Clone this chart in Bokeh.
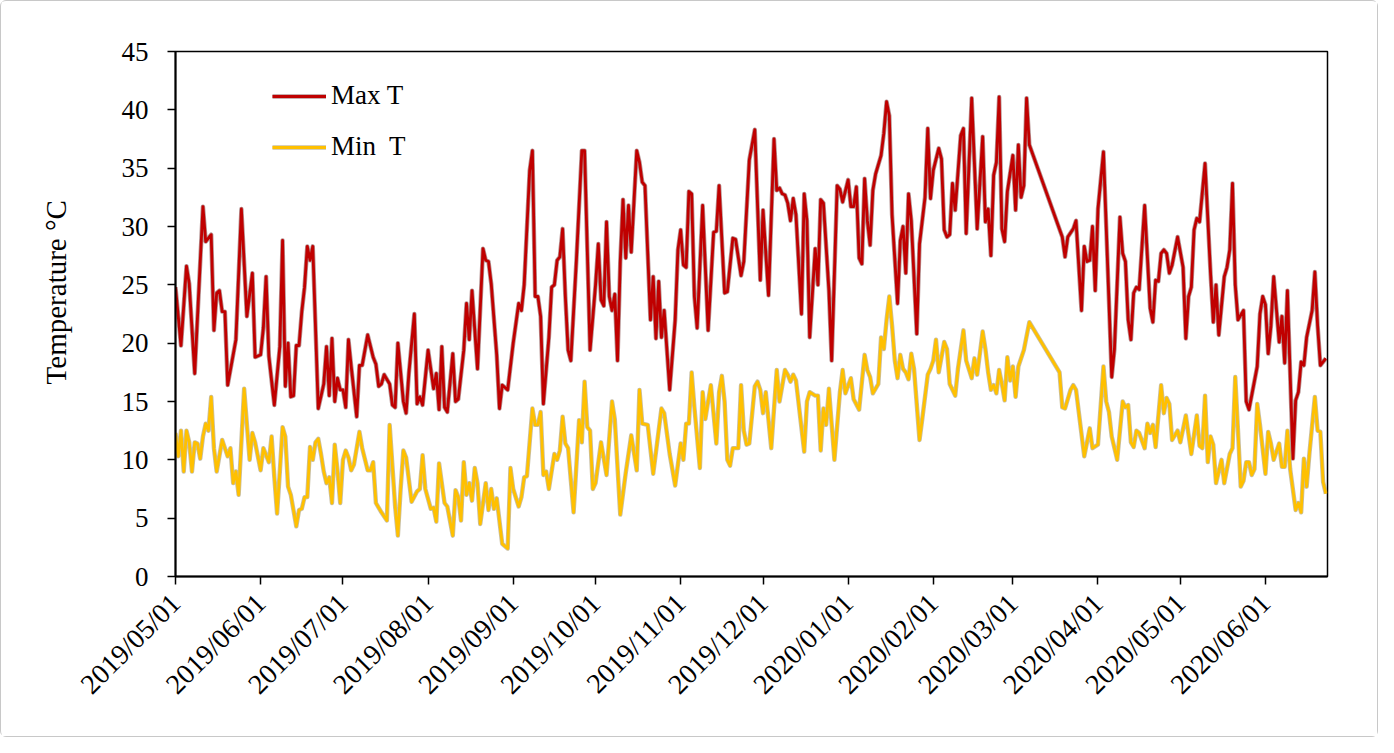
import math
import pandas as pd
from bokeh.plotting import figure
from bokeh.models import (FixedTicker, DatetimeTickFormatter,
                          Range1d, Legend, LegendItem, ColumnDataSource)
from bokeh.embed import file_html
from bokeh.resources import INLINE

# ---------------- data (days since 2019/05/01, daily temperature in °C) ----------------
START = "2019-05-01"

max_days = [0, 2, 4, 5, 7, 10, 11, 13, 14, 15, 16, 17, 18, 19, 22, 24, 26, 28, 29, 31, 32, 33, 34, 36, 38,
            39, 40, 41, 42, 43, 44, 45, 46, 47, 48, 49, 50, 52, 54, 55, 56, 57, 58, 59, 60, 61, 62, 63, 64,
            66, 67, 68, 70, 72, 73, 74, 75, 76, 78, 79, 80, 81, 83, 84, 85, 87, 88, 89, 90, 92, 94, 95, 96,
            97, 98, 99, 101, 102, 103, 105, 106, 107, 108, 110, 112, 113, 114, 115, 117, 118, 119, 120, 121,
            123, 125, 126, 127, 129, 130, 131, 132, 133, 134, 136, 137, 138, 139, 140, 141, 142, 143, 144,
            146, 148, 149, 151, 153, 154, 155, 156, 157, 158, 159, 160, 161, 162, 163, 164, 165, 166, 168,
            169, 170, 171, 173, 174, 175, 176, 177, 178, 180, 182, 183, 184, 185, 186, 187, 188, 189, 190,
            192, 194, 196, 197, 198, 200, 201, 203, 204, 206, 207, 209, 211, 213, 214, 216, 218, 219, 220,
            221, 222, 223, 224, 225, 226, 228, 229, 230, 231, 233, 234, 235, 236, 238, 239, 241, 242, 243,
            245, 246, 247, 248, 249, 250, 251, 252, 253, 254, 255, 257, 258, 259, 260, 261, 263, 264, 265,
            266, 267, 268, 270, 271, 273, 274, 275, 276, 278, 279, 280, 281, 282, 283, 284, 286, 287, 288,
            290, 292, 294, 295, 296, 297, 298, 299, 300, 301, 302, 303, 305, 306, 307, 308, 309, 310, 311,
            323, 324, 325, 327, 328, 330, 331, 332, 333, 334, 335, 336, 338, 339, 341, 342, 344, 345, 346,
            347, 348, 349, 350, 351, 353, 355, 356, 357, 358, 359, 360, 361, 362, 363, 365, 367, 368, 369,
            370, 371, 372, 373, 375, 377, 378, 379, 380, 382, 383, 384, 385, 386, 387, 389, 390, 391, 394,
            395, 396, 397, 398, 399, 400, 402, 403, 404, 405, 407, 408, 409, 410, 411, 412, 414, 415, 416,
            417, 419]
max_temp = [24.8, 19.8, 26.6, 25.1, 17.4, 31.7, 28.7, 29.3, 21.1, 24.3, 24.5, 22.7, 22.7, 16.4, 20.3, 31.5,
            22.3, 26.0, 18.8, 19.0, 21.3, 25.7, 18.9, 14.7, 19.7, 28.8, 16.3, 20.0, 15.4, 15.5, 19.8, 19.8,
            22.7, 24.8, 28.3, 27.1, 28.3, 14.4, 16.5, 19.7, 15.5, 20.4, 15.0, 17.0, 16.0, 16.0, 14.5, 20.3,
            18.0, 13.7, 18.1, 18.1, 20.7, 18.8, 18.2, 16.3, 16.5, 17.3, 16.5, 14.7, 14.5, 20.0, 15.0, 14.0,
            17.4, 22.5, 14.8, 15.4, 14.7, 19.4, 16.1, 17.4, 14.3, 19.7, 14.5, 14.1, 19.1, 15.0, 15.2, 19.4,
            23.4, 20.3, 24.5, 17.8, 28.1, 27.1, 27.0, 25.1, 19.0, 14.4, 16.4, 16.2, 16.0, 20.0, 23.4, 22.8,
            25.0, 34.8, 36.5, 24.0, 24.0, 22.3, 14.8, 20.5, 24.8, 25.0, 27.1, 27.4, 29.8, 24.0, 19.4, 18.5,
            27.0, 36.5, 36.5, 19.4, 25.0, 28.5, 23.7, 23.2, 30.4, 24.0, 22.8, 24.2, 18.5, 27.0, 32.3, 27.3,
            31.8, 27.8, 36.5, 35.5, 33.8, 33.5, 22.0, 25.7, 20.4, 25.3, 20.5, 22.8, 16.0, 22.0, 28.0, 29.7,
            26.7, 26.5, 33.0, 32.8, 24.0, 21.3, 31.8, 21.1, 29.5, 29.6, 33.5, 24.3, 24.4, 29.0, 28.9, 25.8,
            27.0, 35.7, 38.3, 25.4, 31.4, 24.1, 37.5, 33.1, 33.3, 32.8, 32.7, 32.0, 30.5, 32.4, 31.0, 22.5,
            32.8, 30.5, 20.5, 28.1, 25.0, 32.3, 32.0, 24.5, 18.5, 33.5, 33.2, 32.1, 34.0, 31.7, 31.7, 33.4,
            27.3, 26.8, 34.1, 30.5, 28.4, 33.1, 34.5, 36.1, 38.0, 40.7, 39.5, 31.0, 23.4, 28.8, 30.0, 26.0,
            32.8, 30.5, 20.8, 28.5, 32.5, 38.4, 32.4, 34.8, 36.7, 35.8, 29.7, 29.1, 29.3, 33.7, 31.4, 37.8,
            38.4, 29.4, 41.0, 29.8, 37.7, 30.4, 31.5, 27.5, 34.4, 35.5, 41.1, 29.8, 28.7, 33.0, 36.1, 31.4,
            37.0, 32.5, 33.5, 41.0, 37.0, 29.1, 27.4, 29.1, 29.8, 30.5, 22.8, 28.3, 27.0, 27.1, 30.0, 24.5,
            31.5, 36.4, 30.0, 17.1, 19.5, 30.8, 27.7, 27.0, 22.0, 20.3, 24.3, 24.8, 24.6, 31.8, 23.0, 21.8,
            25.4, 25.3, 27.7, 28.0, 27.7, 26.0, 26.7, 29.1, 26.5, 20.4, 24.0, 24.8, 29.7, 30.7, 30.4, 35.4,
            26.0, 21.8, 25.0, 20.7, 25.7, 26.5, 28.0, 33.7, 25.0, 22.0, 22.8, 15.0, 14.3, 18.0, 22.5, 24.0,
            23.3, 19.1, 21.5, 25.7, 20.1, 22.3, 18.3, 24.5, 10.1, 15.1, 15.8, 18.4, 18.1, 20.5, 22.8, 26.1,
            21.5, 18.1, 18.7]

min_days = [0, 1, 2, 3, 4, 5, 6, 7, 8, 9, 10, 11, 12, 13, 14, 15, 17, 18, 19, 20, 21, 22, 23, 25, 27, 28,
            29, 31, 32, 34, 35, 36, 37, 38, 39, 40, 41, 42, 44, 45, 46, 47, 48, 49, 50, 51, 52, 53, 54, 55,
            56, 57, 58, 59, 60, 61, 62, 63, 64, 65, 67, 68, 70, 71, 72, 73, 75, 77, 78, 80, 81, 82, 83, 84,
            86, 88, 89, 90, 91, 93, 94, 95, 96, 98, 99, 101, 102, 103, 104, 105, 106, 107, 108, 109, 110,
            111, 113, 114, 115, 116, 117, 119, 121, 122, 123, 125, 126, 127, 128, 130, 131, 132, 133, 134,
            135, 136, 138, 139, 140, 141, 142, 143, 145, 147, 148, 149, 150, 151, 152, 153, 155, 157, 159,
            160, 162, 164, 166, 168, 169, 170, 172, 174, 177, 178, 180, 182, 184, 185, 186, 187, 188, 189,
            191, 192, 193, 194, 195, 197, 198, 199, 200, 201, 202, 203, 205, 206, 207, 208, 209, 211, 212,
            213, 214, 215, 217, 219, 220, 222, 223, 224, 225, 226, 229, 230, 231, 233, 234, 235, 236, 237,
            238, 240, 242, 243, 244, 246, 247, 249, 251, 252, 253, 254, 256, 257, 258, 259, 260, 261, 262,
            263, 264, 265, 266, 267, 268, 269, 271, 272, 274, 275, 276, 277, 278, 279, 280, 281, 282, 284,
            285, 287, 288, 290, 291, 292, 294, 295, 296, 297, 298, 299, 300, 301, 302, 303, 304, 305, 306,
            307, 309, 311, 322, 323, 324, 326, 327, 328, 331, 333, 334, 336, 338, 339, 340, 341, 343, 345,
            346, 347, 348, 349, 350, 351, 353, 354, 355, 356, 357, 359, 360, 361, 362, 363, 365, 366, 368,
            370, 372, 373, 374, 375, 376, 377, 378, 379, 381, 382, 384, 385, 386, 387, 388, 389, 390, 391,
            392, 393, 394, 395, 397, 398, 399, 400, 402, 403, 404, 405, 406, 408, 409, 410, 411, 412, 413,
            415, 416, 417, 418, 419]
min_temp = [12.3, 10.3, 12.5, 9.0, 12.5, 11.5, 9.0, 11.5, 11.4, 10.1, 12.0, 13.1, 12.5, 15.4, 11.0, 9.0,
            11.7, 11.0, 10.3, 11.0, 8.0, 9.0, 7.0, 16.1, 10.0, 12.3, 11.5, 9.1, 11.0, 9.8, 12.0, 8.5, 5.4,
            9.0, 12.8, 12.0, 7.7, 7.0, 4.3, 5.7, 5.8, 6.8, 6.8, 11.1, 10.0, 11.5, 11.8, 10.5, 9.0, 8.0, 8.5,
            6.3, 11.3, 9.1, 6.3, 10.0, 10.8, 10.2, 9.1, 9.6, 12.4, 11.0, 9.1, 9.1, 9.8, 6.3, 5.5, 4.8, 13.0,
            6.0, 3.5, 7.5, 10.8, 10.2, 6.4, 7.3, 7.5, 10.4, 7.5, 5.8, 5.9, 4.7, 9.7, 6.3, 6.0, 3.5, 7.4, 6.8,
            4.8, 9.8, 7.0, 8.0, 6.5, 9.3, 8.0, 4.5, 8.0, 5.7, 7.5, 5.8, 6.7, 2.8, 2.4, 9.3, 7.5, 6.0, 6.8,
            8.5, 8.6, 14.4, 13.0, 13.0, 14.1, 8.7, 9.0, 7.5, 10.5, 10.0, 10.8, 13.7, 11.4, 11.0, 5.5, 13.4,
            11.5, 16.7, 12.8, 12.5, 7.5, 8.0, 11.5, 8.7, 15.0, 13.5, 5.3, 8.9, 12.1, 9.1, 16.0, 13.1, 13.0,
            8.8, 14.4, 14.0, 10.5, 7.8, 11.4, 10.0, 13.1, 13.1, 17.5, 14.5, 9.3, 15.8, 13.5, 15.0, 16.4,
            11.4, 15.8, 17.2, 15.0, 10.0, 9.5, 11.0, 11.0, 16.4, 12.5, 11.3, 11.4, 16.3, 16.7, 16.0, 14.0,
            15.8, 11.0, 17.7, 15.0, 17.7, 17.3, 16.7, 17.3, 16.8, 10.7, 15.0, 15.8, 15.5, 15.5, 10.8, 14.4,
            13.0, 16.1, 10.0, 15.8, 17.7, 15.7, 17.0, 15.2, 14.3, 19.0, 17.7, 17.1, 15.7, 16.5, 20.5, 19.5,
            22.0, 24.0, 21.5, 18.5, 17.0, 19.0, 17.8, 17.5, 16.9, 19.1, 17.8, 11.7, 13.5, 17.3, 17.8, 18.5,
            20.3, 17.5, 18.8, 20.1, 19.5, 16.5, 15.5, 17.8, 21.1, 18.5, 17.0, 18.7, 17.3, 21.0, 19.5, 17.5,
            16.0, 16.4, 15.7, 17.7, 16.5, 15.1, 18.8, 16.8, 18.0, 15.4, 18.0, 19.4, 21.8, 17.5, 14.5, 14.4,
            16.0, 16.4, 16.0, 10.3, 12.7, 11.0, 11.3, 18.0, 15.0, 14.1, 12.0, 10.0, 15.0, 14.5, 14.7, 11.5,
            11.1, 12.5, 12.3, 11.0, 13.1, 12.3, 13.0, 11.1, 16.4, 14.0, 15.3, 14.8, 11.7, 12.5, 11.5, 13.8,
            10.5, 13.8, 11.2, 11.0, 15.5, 9.8, 12.0, 11.3, 8.0, 10.0, 8.0, 10.5, 11.0, 17.1, 12.5, 7.7, 8.2,
            9.8, 9.8, 8.7, 9.2, 14.8, 13.0, 8.8, 12.4, 11.4, 10.0, 11.4, 9.4, 9.4, 12.5, 9.2, 5.7, 6.3, 5.5,
            10.1, 7.7, 10.5, 15.4, 12.5, 12.4, 8.1, 7.1]

month_ticks = ["2019/05/01", "2019/06/01", "2019/07/01", "2019/08/01", "2019/09/01", "2019/10/01",
               "2019/11/01", "2019/12/01", "2020/01/01", "2020/02/01", "2020/03/01", "2020/04/01",
               "2020/05/01", "2020/06/01"]
y_ticks = [0, 5, 10, 15, 20, 25, 30, 35, 40, 45]

y_title = "Temperature °C"
series_labels = ["Max T", "Min  T"]
series_colors = ["#C00000", "#FFC000"]
edge_colors = ["#7a3a3a", "#9a8a5a"]

# ---------------- figure ----------------
start = pd.Timestamp(START)
max_dates = start + pd.to_timedelta(max_days, unit="D")
min_dates = start + pd.to_timedelta(min_days, unit="D")

FONT = "Liberation Serif"

p = figure(width=1378, height=737, output_backend="svg", toolbar_location=None,
           x_axis_type="datetime",
           x_range=Range1d(start, start + pd.Timedelta(days=419.6)),
           y_range=Range1d(0, 45),
           min_border_left=174, min_border_right=52, min_border_top=50, min_border_bottom=162)
p.styles = {"border": "1px solid #c8c8c8", "border-radius": "6px", "box-sizing": "border-box"}

p.xgrid.visible = False
p.ygrid.visible = False
p.outline_line_color = "black"
p.outline_line_width = 1.5
p.background_fill_color = "white"
p.border_fill_color = "white"

src_max = ColumnDataSource(dict(x=max_dates, y=max_temp))
src_min = ColumnDataSource(dict(x=min_dates, y=min_temp))

r_max_e = p.line("x", "y", source=src_max, line_color=edge_colors[0], line_width=4.4, line_alpha=0.55,
                 line_join="round")
r_max = p.line("x", "y", source=src_max, line_color=series_colors[0], line_width=2.8, line_join="round")
r_min_e = p.line("x", "y", source=src_min, line_color=edge_colors[1], line_width=4.4, line_alpha=0.55,
                 line_join="round")
r_min = p.line("x", "y", source=src_min, line_color=series_colors[1], line_width=2.8, line_join="round")

# axes
xa = p.xaxis[0]
xa.ticker = FixedTicker(ticks=[pd.Timestamp(t.replace("/", "-")).value / 1e6 for t in month_ticks])
fmt = "%Y/%m/%d"
xa.formatter = DatetimeTickFormatter(milliseconds=fmt, seconds=fmt, minsec=fmt, minutes=fmt, hourmin=fmt,
                                     hours=fmt, days=fmt, months=fmt, years=fmt)
xa.major_label_orientation = math.pi / 4
xa.minor_tick_line_color = None
xa.major_tick_in = 0
xa.major_tick_out = 8
xa.major_label_standoff = 14
xa.major_label_text_font_size = "28px"

ya = p.yaxis[0]
ya.ticker = FixedTicker(ticks=y_ticks)
ya.minor_tick_line_color = None
ya.major_tick_in = 0
ya.major_tick_out = 8
ya.major_label_standoff = 19
ya.major_label_text_font_size = "27px"
# leading no-break spaces lift the centred title slightly above the frame's middle, as in the reference
ya.axis_label = "\u00a0" * 6 + y_title
ya.axis_label_standoff = 47
ya.axis_label_text_font_size = "29px"

for ax in (xa, ya):
    ax.axis_line_color = "black"
    ax.axis_line_width = 2
    ax.major_tick_line_color = "black"
    ax.major_tick_line_width = 1.5
    ax.major_label_text_font = FONT
    ax.major_label_text_color = "black"
    ax.axis_label_text_font = FONT
    ax.axis_label_text_font_style = "normal"
    ax.axis_label_text_color = "black"

legend = Legend(items=[LegendItem(label=series_labels[0], renderers=[r_max_e, r_max]),
                       LegendItem(label=series_labels[1], renderers=[r_min_e, r_min])],
                location=(97, 414), orientation="vertical",
                glyph_width=54, glyph_height=20, label_height=20, label_standoff=5,
                spacing=20, padding=0, margin=0,
                label_text_font=FONT, label_text_font_size="27px", label_text_color="black",
                background_fill_alpha=0, border_line_color=None)
p.add_layout(legend, "center")

open("out.html", "w").write(file_html(p, INLINE))
